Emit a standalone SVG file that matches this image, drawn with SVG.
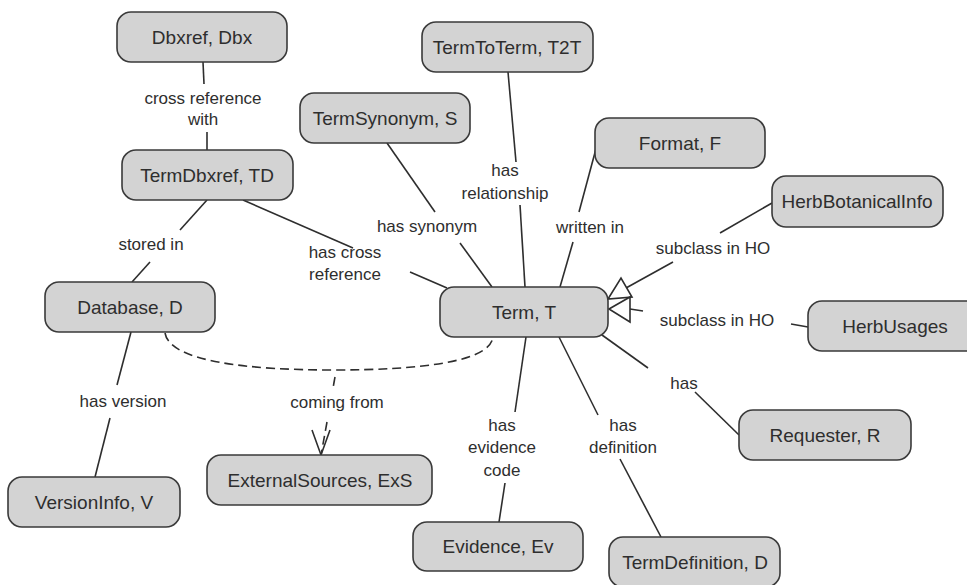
<svg xmlns="http://www.w3.org/2000/svg" width="967" height="585" viewBox="0 0 967 585">
<style>
.node rect{fill:#d3d3d3;stroke:#3a3a3a;stroke-width:1.6}
.node text{font-family:"Liberation Sans",Arial,sans-serif;font-size:19px;fill:#2e2e2e;text-anchor:middle}
.lbl{font-family:"Liberation Sans",Arial,sans-serif;font-size:17px;fill:#2e2e2e;text-anchor:middle}
.c line,.c path,.c polyline{stroke:#2e2e2e;stroke-width:1.6;fill:none}
.c polygon{fill:#ffffff;stroke:#2e2e2e;stroke-width:1.6}
.c .dash{stroke-dasharray:9 5}
</style>
<rect width="967" height="585" fill="#ffffff"/>
<g id="connectors" class="c">
<line x1="203" y1="62" x2="204" y2="84"/>
<line x1="207" y1="132" x2="207" y2="150"/>
<line x1="207" y1="200" x2="180" y2="230"/>
<line x1="150" y1="262" x2="132" y2="282"/>
<line x1="243" y1="200" x2="353" y2="248"/>
<line x1="410" y1="272" x2="447" y2="288"/>
<line x1="387" y1="143" x2="435" y2="212"/>
<line x1="460" y1="243" x2="492" y2="287"/>
<line x1="508" y1="72" x2="516" y2="162"/>
<line x1="520" y1="205" x2="525" y2="287"/>
<line x1="597" y1="145" x2="579" y2="212"/>
<line x1="573" y1="242" x2="560" y2="287"/>
<line x1="772" y1="203" x2="720" y2="233"/>
<line x1="673" y1="262" x2="626" y2="288"/>
<polygon points="608,299 621,278 632,297"/>
<line x1="808" y1="327" x2="791" y2="324"/>
<line x1="643" y1="311" x2="630" y2="309"/>
<polygon points="609,309 630,297 630,322"/>
<line x1="131" y1="332" x2="117" y2="385"/>
<line x1="110" y1="418" x2="95" y2="477"/>
<path class="dash" d="M165,333 C170,362 250,370 334,370 C420,370 490,362 493,337"/>
<line class="dash" x1="335" y1="377" x2="333" y2="388"/>
<line class="dash" x1="327" y1="422" x2="321" y2="455"/>
<polyline points="312,430 321,455 330,430"/>
<line x1="602" y1="335" x2="648" y2="368"/>
<line x1="695" y1="392" x2="739" y2="435"/>
<line x1="526" y1="337" x2="515" y2="412"/>
<line x1="505" y1="483" x2="499" y2="522"/>
<line x1="559" y1="337" x2="598" y2="415"/>
<line x1="620" y1="459" x2="661" y2="537"/>
</g>
<g id="labels">
<text class="lbl" x="203" y="104">cross reference</text>
<text class="lbl" x="203" y="125">with</text>
<text class="lbl" x="151" y="250">stored in</text>
<text class="lbl" x="345" y="258">has cross</text>
<text class="lbl" x="345" y="280">reference</text>
<text class="lbl" x="427" y="232">has synonym</text>
<text class="lbl" x="505" y="176">has</text>
<text class="lbl" x="505" y="199">relationship</text>
<text class="lbl" x="590" y="233">written in</text>
<text class="lbl" x="713" y="254">subclass in HO</text>
<text class="lbl" x="717" y="326">subclass in HO</text>
<text class="lbl" x="123" y="407">has version</text>
<text class="lbl" x="337" y="408">coming from</text>
<text class="lbl" x="684" y="389">has</text>
<text class="lbl" x="502" y="431">has</text>
<text class="lbl" x="502" y="453">evidence</text>
<text class="lbl" x="502" y="476">code</text>
<text class="lbl" x="623" y="431">has</text>
<text class="lbl" x="623" y="453">definition</text>
</g>
<g id="n-dbxref" class="node"><rect x="117" y="12" width="170" height="50" rx="14"/><text x="202" y="44">Dbxref, Dbx</text></g>
<g id="n-termdbxref" class="node"><rect x="122" y="150" width="171" height="50" rx="14"/><text x="207" y="182">TermDbxref, TD</text></g>
<g id="n-termsynonym" class="node"><rect x="300" y="93" width="170" height="50" rx="14"/><text x="385" y="125">TermSynonym, S</text></g>
<g id="n-termtoterm" class="node"><rect x="422" y="22" width="171" height="50" rx="14"/><text x="507" y="54">TermToTerm, T2T</text></g>
<g id="n-format" class="node"><rect x="595" y="118" width="170" height="50" rx="14"/><text x="680" y="150">Format, F</text></g>
<g id="n-herbbotanicalinfo" class="node"><rect x="772" y="176" width="171" height="51" rx="14"/><text x="857" y="208">HerbBotanicalInfo</text></g>
<g id="n-database" class="node"><rect x="45" y="282" width="170" height="50" rx="14"/><text x="130" y="314">Database, D</text></g>
<g id="n-term" class="node"><rect x="440" y="287" width="168" height="50" rx="14"/><text x="524" y="319">Term, T</text></g>
<g id="n-herbusages" class="node"><rect x="808" y="301" width="175" height="50" rx="14"/><text x="895" y="333">HerbUsages</text></g>
<g id="n-requester" class="node"><rect x="739" y="410" width="172" height="50" rx="14"/><text x="825" y="442">Requester, R</text></g>
<g id="n-versioninfo" class="node"><rect x="8" y="477" width="172" height="50" rx="14"/><text x="94" y="509">VersionInfo, V</text></g>
<g id="n-externalsources" class="node"><rect x="207" y="455" width="225" height="50" rx="14"/><text x="320" y="487">ExternalSources, ExS</text></g>
<g id="n-evidence" class="node"><rect x="413" y="522" width="170" height="49" rx="14"/><text x="498" y="553">Evidence, Ev</text></g>
<g id="n-termdefinition" class="node"><rect x="609" y="537" width="171" height="50" rx="14"/><text x="695" y="569">TermDefinition, D</text></g>
</svg>
